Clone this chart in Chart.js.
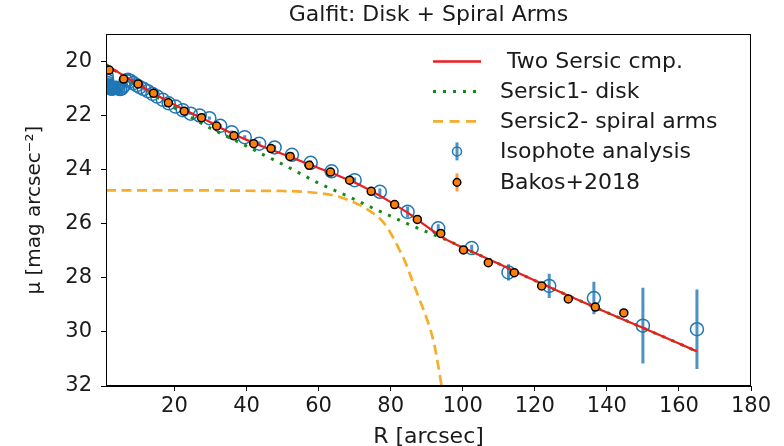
<!DOCTYPE html>
<html>
<head>
<meta charset="utf-8">
<script src="https://cdn.jsdelivr.net/npm/chart.js@4.4.1/dist/chart.umd.min.js"></script>
<style>
  html, body { margin: 0; padding: 0; background: #ffffff; }
  canvas { display: block; }
</style>
</head>
<body>
<canvas id="c" width="784" height="446" style="width:784px;height:446px"></canvas>
<script>
// ---------------- DATA ----------------
const titleText = 'Galfit: Disk + Spiral Arms';
const xTitle = 'R [arcsec]';
const yTitle = 'μ [mag arcsec⁻²]';
const xTicks = [20, 40, 60, 80, 100, 120, 140, 160, 180];
const yTicks = [20, 22, 24, 26, 28, 30, 32];
const legendLabels = [' Two Sersic cmp.', 'Sersic1- disk', 'Sersic2- spiral arms', 'Isophote analysis', 'Bakos+2018'];

// Isophote analysis (blue open circles with error bars)
const isoR = [1.2, 1.3, 1.4, 1.6, 1.7, 1.9, 2.1, 2.3, 2.5, 2.8, 3.0, 3.3, 3.7, 4.0, 4.4, 4.9, 5.4, 5.9, 6.5, 7.1,
              7.8, 8.6, 9.5, 10.4, 11.5, 12.6, 13.9, 15.2, 16.8, 18.4, 20.3, 22.3, 24.5, 27.0, 29.7, 32.7, 35.9,
              39.5, 43.5, 47.8, 52.6, 57.8, 63.6, 70.0, 77.0, 84.7, 93.2, 102.5, 112.7, 124.0, 136.4, 150.0, 165.0];
const isoMu = [20.55, 20.7, 20.8, 20.88, 20.92, 20.95, 20.98, 21.0, 21.0, 21.0, 21.0, 20.98, 20.97, 20.98, 21.0, 21.02, 21.0, 20.9, 20.7, 20.68,
               20.72, 20.8, 20.88, 20.95, 21.02, 21.1, 21.2, 21.3, 21.42, 21.55, 21.67, 21.8, 21.93, 22.0, 22.1, 22.38, 22.62,
               22.8, 23.04, 23.18, 23.45, 23.75, 24.06, 24.39, 24.82, 25.56, 26.17, 26.9, 27.8, 28.3, 28.75, 29.77, 29.9];
const isoErr = [0.05, 0.05, 0.05, 0.05, 0.05, 0.05, 0.05, 0.05, 0.05, 0.05, 0.05, 0.05, 0.05, 0.05, 0.05, 0.05, 0.05, 0.05, 0.05, 0.05,
                0.05, 0.05, 0.05, 0.05, 0.05, 0.05, 0.05, 0.05, 0.05, 0.05, 0.05, 0.05, 0.05, 0.06, 0.06, 0.06, 0.07,
                0.07, 0.08, 0.08, 0.08, 0.09, 0.1, 0.1, 0.12, 0.2, 0.15, 0.12, 0.3, 0.45, 0.6, 1.4, 1.47];

// Bakos+2018 (orange filled circles)
const bakR = [1.9, 5.9, 9.9, 14.2, 18.3, 22.7, 27.5, 31.7, 36.5, 42.0, 46.8, 52.1, 57.4, 63.3, 68.6, 74.6, 81.1,
              87.4, 93.9, 100.2, 107.1, 114.3, 121.9, 129.3, 136.8, 144.7];
const bakMu = [20.32, 20.65, 20.83, 21.18, 21.53, 21.84, 22.08, 22.39, 22.75, 23.04, 23.22, 23.51, 23.84, 24.09, 24.39, 24.8, 25.29,
               25.84, 26.36, 26.97, 27.44, 27.81, 28.3, 28.78, 29.08, 29.3];
const bakErr = [0.05, 0.05, 0.05, 0.05, 0.05, 0.05, 0.05, 0.05, 0.05, 0.05, 0.05, 0.05, 0.05, 0.05, 0.05, 0.05, 0.06,
                0.06, 0.07, 0.07, 0.08, 0.08, 0.09, 0.1, 0.12, 0.14];

// Model: total (two Sersic components)
const totR  = [1, 5, 10, 15, 20, 25, 30, 35, 40, 45, 50, 55, 60, 65, 70, 75, 80, 85, 90, 95, 100, 110, 120, 130, 140, 150, 165];
const totMu = [20.12, 20.45, 20.85, 21.24, 21.6, 21.93, 22.25, 22.6, 22.9, 23.17, 23.42, 23.68, 23.94, 24.2, 24.48, 24.82, 25.2,
               25.62, 26.1, 26.55, 26.88, 27.48, 28.1, 28.7, 29.28, 29.85, 30.72];

// Sersic 1: disk
const diskR  = [1, 5, 10, 15, 20, 25, 30, 35, 40, 45, 50, 55, 60, 65, 70, 75, 80, 85, 90, 95, 100, 110, 120, 130, 140, 150, 165];
const diskMu = [20.12, 20.47, 20.88, 21.3, 21.72, 22.1, 22.47, 22.8, 23.13, 23.47, 23.8, 24.15, 24.5, 24.8, 25.1, 25.42, 25.72,
                26.02, 26.3, 26.57, 26.88, 27.48, 28.1, 28.7, 29.28, 29.85, 30.72];

// Sersic 2: spiral arms
const armR  = [1, 10, 20, 30, 40, 50, 55, 60, 65, 70, 75, 78, 80, 82, 84, 86, 88, 90, 92, 93, 94, 95];
const armMu = [24.77, 24.77, 24.77, 24.77, 24.78, 24.79, 24.81, 24.87, 24.98, 25.22, 25.6, 25.95, 26.35, 26.85, 27.4, 28.1,
               28.8, 29.5, 30.4, 31.1, 31.9, 32.8];

// ---------------- STYLE ----------------
const FONT = 'DejaVu Sans';
const TXT = '#1a1a1a';
const C_RED = '#ee1c1c';
const C_GREEN = '#138a13';
const C_ARM = '#f5ad2a';
const C_BLUE = '#1f77b4';
const C_ORANGE = '#ff7f0e';

const pts = (xs, ys) => xs.map((v, i) => ({x: v, y: ys[i]}));

const errorBars = {
  id: 'errorBars',
  beforeDatasetsDraw(chart) {
    const {ctx, chartArea, scales: {x, y}} = chart;
    ctx.save();
    ctx.beginPath();
    ctx.rect(chartArea.left, chartArea.top, chartArea.right - chartArea.left, chartArea.bottom - chartArea.top);
    ctx.clip();
    const sets = [
      {r: isoR, m: isoMu, e: isoErr, color: 'rgba(31,119,180,0.8)', w: 3},
      {r: bakR, m: bakMu, e: bakErr, color: 'rgba(255,127,14,0.8)', w: 3}
    ];
    sets.forEach(s => {
      ctx.strokeStyle = s.color;
      ctx.lineWidth = s.w;
      s.r.forEach((r, i) => {
        const px = x.getPixelForValue(r);
        ctx.beginPath();
        ctx.moveTo(px, y.getPixelForValue(s.m[i] - s.e[i]));
        ctx.lineTo(px, y.getPixelForValue(s.m[i] + s.e[i]));
        ctx.stroke();
      });
    });
    ctx.restore();
  }
};

const frame = {
  id: 'frame',
  afterDatasetsDraw(chart) {
    const {ctx, chartArea} = chart;
    ctx.save();
    ctx.strokeStyle = '#000';
    ctx.lineWidth = 1;
    ctx.strokeRect(Math.round(chartArea.left) + 0.5, Math.round(chartArea.top) + 0.5,
      Math.round(chartArea.right - chartArea.left) - 1, Math.round(chartArea.bottom - chartArea.top) - 1);
    ctx.restore();
  }
};

const customLegend = {
  id: 'customLegend',
  afterDraw(chart) {
    const {ctx, chartArea} = chart;
    const hx0 = chartArea.right - 318, hx1 = chartArea.right - 270, hxm = (hx0 + hx1) / 2;
    const tx = chartArea.right - 251;
    const rows = [27, 57, 87, 117, 148].map(v => chartArea.top + v);
    ctx.save();
    // row 0: red line
    ctx.lineCap = 'butt';
    ctx.strokeStyle = C_RED; ctx.lineWidth = 2.5; ctx.setLineDash([]);
    ctx.beginPath(); ctx.moveTo(hx0, rows[0]); ctx.lineTo(hx1, rows[0]); ctx.stroke();
    // row 1: green dotted
    ctx.strokeStyle = C_GREEN; ctx.lineWidth = 3; ctx.setLineDash([3, 7]);
    ctx.beginPath(); ctx.moveTo(hx0, rows[1]); ctx.lineTo(hx1, rows[1]); ctx.stroke();
    // row 2: orange dashed
    ctx.strokeStyle = C_ARM; ctx.lineWidth = 2.7; ctx.setLineDash([10, 6.5]);
    ctx.beginPath(); ctx.moveTo(hx0, rows[2]); ctx.lineTo(hx1, rows[2]); ctx.stroke();
    ctx.setLineDash([]);
    // row 3: blue errorbar marker
    ctx.strokeStyle = 'rgba(31,119,180,0.8)'; ctx.lineWidth = 3;
    ctx.beginPath(); ctx.moveTo(hxm, rows[3] - 9); ctx.lineTo(hxm, rows[3] + 9); ctx.stroke();
    ctx.strokeStyle = C_BLUE; ctx.lineWidth = 1.5;
    ctx.beginPath(); ctx.arc(hxm, rows[3], 4.5, 0, Math.PI * 2); ctx.stroke();
    // row 4: Bakos marker
    ctx.strokeStyle = 'rgba(255,127,14,0.8)'; ctx.lineWidth = 3;
    ctx.beginPath(); ctx.moveTo(hxm, rows[4] - 9); ctx.lineTo(hxm, rows[4] + 9); ctx.stroke();
    ctx.fillStyle = C_ORANGE; ctx.strokeStyle = '#000'; ctx.lineWidth = 1.5;
    ctx.beginPath(); ctx.arc(hxm, rows[4], 3.8, 0, Math.PI * 2); ctx.fill(); ctx.stroke();
    // labels
    ctx.fillStyle = TXT;
    ctx.font = '22px "' + FONT + '"';
    ctx.textAlign = 'left';
    ctx.textBaseline = 'middle';
    legendLabels.forEach((t, i) => ctx.fillText(t, tx, rows[i] + 1));
    ctx.restore();
  }
};

const tickFont = {family: FONT, size: 21};

new Chart(document.getElementById('c'), {
  type: 'scatter',
  data: {
    datasets: [
      {label: legendLabels[4], data: pts(bakR, bakMu), order: 0, pointRadius: 4, pointHoverRadius: 4,
       pointBackgroundColor: C_ORANGE, pointBorderColor: '#000', pointBorderWidth: 1.5, showLine: false},
      {label: legendLabels[0], data: pts(totR, totMu), order: 1, showLine: true, borderColor: C_RED, borderWidth: 2.2,
       pointRadius: 0, tension: 0.3, cubicInterpolationMode: 'monotone'},
      {label: legendLabels[1], data: pts(diskR, diskMu), order: 2, showLine: true, borderColor: C_GREEN, borderWidth: 3,
       borderDash: [3, 7], pointRadius: 0, cubicInterpolationMode: 'monotone'},
      {label: legendLabels[2], data: pts(armR, armMu), order: 3, showLine: true, borderColor: C_ARM, borderWidth: 2.7,
       borderDash: [10, 5.5], pointRadius: 0, cubicInterpolationMode: 'monotone'},
      {label: legendLabels[3], data: pts(isoR, isoMu), order: 4, pointRadius: 6.5, pointHoverRadius: 6.5,
       pointBackgroundColor: 'rgba(0,0,0,0)', pointBorderColor: C_BLUE, pointBorderWidth: 1.5, showLine: false}
    ]
  },
  options: {
    responsive: false,
    animation: false,
    events: [],
    layout: {padding: {left: 0, right: 33, top: 0, bottom: 0}},
    plugins: {
      legend: {display: false},
      tooltip: {enabled: false},
      title: {display: true, text: titleText, fullSize: false, color: TXT,
              font: {family: FONT, size: 22, weight: 'normal', lineHeight: 1.2}, padding: {top: 2, bottom: 6}}
    },
    scales: {
      x: {
        type: 'linear', min: 1, max: 180,
        afterBuildTicks: s => { s.ticks = xTicks.map(v => ({value: v})); },
        afterFit: s => { s.height = 60; },
        grid: {drawOnChartArea: false, drawTicks: true, tickLength: 5, tickColor: '#000', tickWidth: 1},
        border: {display: true, color: '#000', width: 1},
        ticks: {font: tickFont, color: TXT, padding: 3, maxRotation: 0, autoSkip: false},
        title: {display: true, text: xTitle, color: TXT, font: {family: FONT, size: 22, lineHeight: 1}, padding: {top: 0, bottom: -2}}
      },
      y: {
        type: 'linear', reverse: true, min: 19, max: 32,
        afterBuildTicks: s => { s.ticks = yTicks.map(v => ({value: v})); },
        afterFit: s => { s.width = 106; },
        grid: {drawOnChartArea: false, drawTicks: true, tickLength: 5, tickColor: '#000', tickWidth: 1},
        border: {display: true, color: '#000', width: 1},
        ticks: {font: tickFont, color: TXT, padding: 9, autoSkip: false},
        title: {display: true, text: yTitle, color: TXT, font: {family: FONT, size: 20, lineHeight: 1.2}, padding: {top: 23, bottom: 0}}
      }
    }
  },
  plugins: [errorBars, frame, customLegend]
});
</script>
</body>
</html>
